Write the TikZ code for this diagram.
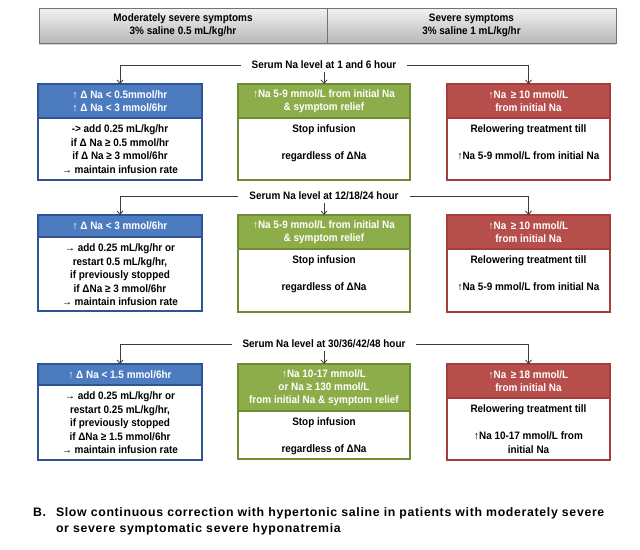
\documentclass[tikz,border=0pt]{standalone}
\usepackage{fontspec}
\setmainfont{Liberation Sans}[FakeStretch=0.92]
\newfontfamily\footfont{Liberation Sans}[LetterSpace=5.5]
\usetikzlibrary{arrows.meta,shadows}
\definecolor{bluehd}{RGB}{76,123,192}
\definecolor{blueln}{RGB}{47,84,150}
\definecolor{greenhd}{RGB}{141,173,75}
\definecolor{greenln}{RGB}{112,140,50}
\definecolor{redhd}{RGB}{182,78,75}
\definecolor{redln}{RGB}{168,60,58}
\definecolor{linecol}{RGB}{60,60,60}
\newcommand\bodytxt[3]{\parbox[c][#1][t]{#2}{\centering\rule{0pt}{14.9pt}#3}}
\begin{document}
\begin{tikzpicture}[x=1pt,y=-1pt,
  every node/.style={font=\fontsize{10.8}{12.8}\selectfont\bfseries, align=center, inner sep=0pt, outer sep=0pt},
  hdr/.style={anchor=north west, draw=#1ln, fill=#1hd, text=white, line width=1.1pt},
  bdy/.style={anchor=north west, draw=#1ln, fill=white, text=black, line width=1.1pt, font=\fontsize{10.8}{13.4}\selectfont\bfseries},
  topbox/.style={anchor=north west, draw=black!55, line width=0.8pt, top color=black!5, bottom color=black!28, text=black,
     drop shadow={shadow xshift=0pt, shadow yshift=-1.5pt, opacity=0.35}},
  serum/.style={fill=white, inner xsep=11pt, inner ysep=3pt},
  arr/.style={draw=linecol, line width=0.8pt, -{Straight Barb[length=3.5pt,width=6pt]}},
  foot/.style={font=\footfont\fontsize{12.3}{16}\selectfont\bfseries}
]
\useasboundingbox (0,0) rectangle (640,549);
\fill[white] (0,0) rectangle (640,549);

% top boxes
\node[topbox, minimum width=288pt, minimum height=35pt] (tl) at (39,8) {Moderately severe symptoms\\3\% saline 0.5 mL/kg/hr};
\node[topbox, minimum width=289pt, minimum height=35pt] (tr) at (327,8) {Severe symptoms\\3\% saline 1 mL/kg/hr};

% ---------- Row 1 ----------
\node[hdr=blue, minimum width=164pt, minimum height=34pt] (b1h) at (38,84) {↑ Δ Na < 0.5mmol/hr\\↑ Δ Na < 3 mmol/6hr};
\node[bdy=blue, minimum width=164pt, minimum height=62pt] (b1b) at (38,118) {\bodytxt{62pt}{160pt}{-> add 0.25 mL/kg/hr\\if Δ Na ≥ 0.5 mmol/hr\\if Δ Na ≥ 3 mmol/6hr\\→ maintain infusion rate}};
\node[hdr=green, minimum width=172pt, minimum height=34pt] (g1h) at (238,84) {↑Na 5-9 mmol/L from initial Na\\\& symptom relief};
\node[bdy=green, minimum width=172pt, minimum height=62pt] (g1b) at (238,118) {\bodytxt{62pt}{168pt}{Stop infusion\\[13.4pt]regardless of ΔNa}};
\node[hdr=red, minimum width=163pt, minimum height=34pt] (r1h) at (447,84) {↑Na \,≥ 10 mmol/L\\from initial Na};
\node[bdy=red, minimum width=163pt, minimum height=62pt] (r1b) at (447,118) {\bodytxt{62pt}{159pt}{Relowering treatment till\\[13.4pt]↑Na 5-9 mmol/L from initial Na}};

\node[serum] (s1) at (324,65) {Serum Na level at 1 and 6 hour};
\draw[arr] (s1.west) -| (b1h.north);
\draw[arr] (s1.east) -| (r1h.north);
\draw[arr] (s1.south) -- (g1h.north);

% ---------- Row 2 ----------
\node[hdr=blue, minimum width=164pt, minimum height=22pt] (b2h) at (38,215) {↑ Δ Na < 3 mmol/6hr};
\node[bdy=blue, minimum width=164pt, minimum height=74pt] (b2b) at (38,237) {\bodytxt{74pt}{160pt}{→ add 0.25 mL/kg/hr or\\restart 0.5 mL/kg/hr,\\if previously stopped\\if ΔNa ≥ 3 mmol/6hr\\→ maintain infusion rate}};
\node[hdr=green, minimum width=172pt, minimum height=34pt] (g2h) at (238,215) {↑Na 5-9 mmol/L from initial Na\\\& symptom relief};
\node[bdy=green, minimum width=172pt, minimum height=63pt] (g2b) at (238,249) {\bodytxt{63pt}{168pt}{Stop infusion\\[13.4pt]regardless of ΔNa}};
\node[hdr=red, minimum width=163pt, minimum height=34pt] (r2h) at (447,215) {↑Na \,≥ 10 mmol/L\\from initial Na};
\node[bdy=red, minimum width=163pt, minimum height=63pt] (r2b) at (447,249) {\bodytxt{63pt}{159pt}{Relowering treatment till\\[13.4pt]↑Na 5-9 mmol/L from initial Na}};

\node[serum] (s2) at (324,196) {Serum Na level at 12/18/24 hour};
\draw[arr] (s2.west) -| (b2h.north);
\draw[arr] (s2.east) -| (r2h.north);
\draw[arr] (s2.south) -- (g2h.north);

% ---------- Row 3 ----------
\node[hdr=blue, minimum width=164pt, minimum height=21pt] (b3h) at (38,364) {↑ Δ Na < 1.5 mmol/6hr};
\node[bdy=blue, minimum width=164pt, minimum height=75pt] (b3b) at (38,385) {\bodytxt{75pt}{160pt}{→ add 0.25 mL/kg/hr or\\restart 0.25 mL/kg/hr,\\if previously stopped\\if ΔNa ≥ 1.5 mmol/6hr\\→ maintain infusion rate}};
\node[hdr=green, minimum width=172pt, minimum height=47pt] (g3h) at (238,364) {↑Na 10-17 mmol/L\\or Na ≥ 130 mmol/L\\from initial Na \& symptom relief};
\node[bdy=green, minimum width=172pt, minimum height=48pt] (g3b) at (238,411) {\bodytxt{48pt}{168pt}{Stop infusion\\[13.4pt]regardless of ΔNa}};
\node[hdr=red, minimum width=163pt, minimum height=34pt] (r3h) at (447,364) {↑Na \,≥ 18 mmol/L\\from initial Na};
\node[bdy=red, minimum width=163pt, minimum height=62pt] (r3b) at (447,398) {\bodytxt{62pt}{159pt}{Relowering treatment till\\[13.4pt]↑Na 10-17 mmol/L from\\initial Na}};

\node[serum] (s3) at (324,344) {Serum Na level at 30/36/42/48 hour};
\draw[arr] (s3.west) -| (b3h.north);
\draw[arr] (s3.east) -| (r3h.north);
\draw[arr] (s3.south) -- (g3h.north);

% ---------- Footer ----------
\node[anchor=base west, foot] (fb) at (33,516) {B.};
\node[anchor=base west, foot] (ft1) at (56,516) {Slow continuous correction with hypertonic saline in patients with moderately severe};
\node[anchor=base west, foot] (ft2) at (56,532) {or severe symptomatic severe hyponatremia};
\end{tikzpicture}
\end{document}
